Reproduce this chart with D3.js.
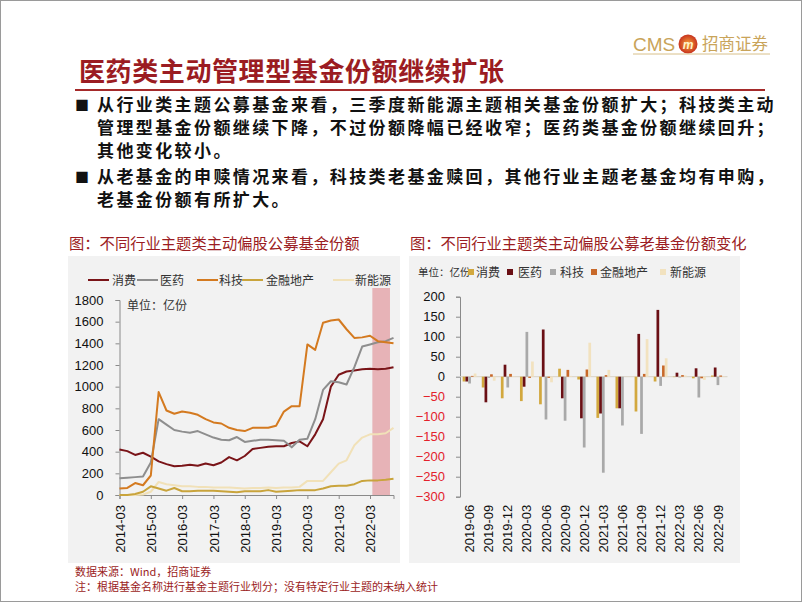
<!DOCTYPE html>
<html>
<head>
<meta charset="utf-8">
<script src="https://cdn.jsdelivr.net/npm/d3@7"></script>
<style>
  html, body { margin: 0; padding: 0; background: #fff; }
  svg { display: block; }
  .cjk { font-family: "Noto Sans CJK SC", "Noto Sans", sans-serif; }
  .num { font-family: "Liberation Sans", Arial, sans-serif; }
</style>
</head>
<body>
<svg id="page" width="802" height="602"></svg>
<script>
// ---------------- DATA ----------------
const pageTitle = "医药类主动管理型基金份额继续扩张";
const bulletLines = [
  ["从行业类主题公募基金来看，三季度新能源主题相关基金份额扩大；科技类主动",
   "管理型基金份额继续下降，不过份额降幅已经收窄；医药类基金份额继续回升；",
   "其他变化较小。"],
  ["从老基金的申赎情况来看，科技类老基金赎回，其他行业主题老基金均有申购，",
   "老基金份额有所扩大。"]
];
const leftTitle = "图：不同行业主题类主动偏股公募基金份额";
const rightTitle = "图：不同行业主题类主动偏股公募老基金份额变化";
const unitLabel = "单位：亿份";
const sourceNote = "数据来源：Wind，招商证券";
const footNote = "注：根据基金名称进行基金主题行业划分；没有特定行业主题的未纳入统计";

// Left chart: quarterly fund shares (亿份)
const quarters = [
  "2014-03","2014-06","2014-09","2014-12","2015-03","2015-06","2015-09","2015-12",
  "2016-03","2016-06","2016-09","2016-12","2017-03","2017-06","2017-09","2017-12",
  "2018-03","2018-06","2018-09","2018-12","2019-03","2019-06","2019-09","2019-12",
  "2020-03","2020-06","2020-09","2020-12","2021-03","2021-06","2021-09","2021-12",
  "2022-03","2022-06","2022-09","2022-10"
];
const quarterTicks = ["2014-03","2015-03","2016-03","2017-03","2018-03","2019-03","2020-03","2021-03","2022-03"];
const lineSeries = ["消费","医药","科技","金融地产","新能源"];
const consumption = [420,405,370,390,355,310,285,265,270,280,270,290,275,300,350,320,
                     360,425,435,445,450,450,480,495,450,560,700,1000,1110,1140,1150,1160,
                     1165,1160,1165,1180];
const pharma      = [155,160,165,170,300,700,650,600,585,575,590,560,530,510,505,535,
                     490,500,510,510,505,500,440,510,520,700,970,1050,1040,1020,1180,1370,
                     1390,1410,1420,1450];
const technology  = [60,65,110,90,180,950,780,750,770,760,740,700,670,660,620,600,
                     590,620,620,620,640,770,820,820,1390,1340,1590,1610,1620,1530,1450,1455,
                     1470,1420,1410,1400];
const finance     = [0,0,10,30,80,60,40,65,35,35,40,40,40,35,30,25,
                     35,35,35,45,30,35,40,45,45,45,60,80,85,85,100,130,
                     135,135,140,150];
const newEnergy   = [0,0,0,5,30,120,100,90,80,80,75,75,70,70,70,65,
                     60,65,65,70,65,70,70,75,130,130,130,210,290,320,460,530,
                     560,560,570,620];
const highlightFrom = "2022-03";
const highlightTo = "2022-09";
const leftYTicks = [0,200,400,600,800,1000,1200,1400,1600,1800];

// Right chart: change in old-fund shares (亿份)
const periods = ["2019-06","2019-09","2019-12","2020-03","2020-06","2020-09","2020-12",
                 "2021-03","2021-06","2021-09","2021-12","2022-03","2022-06","2022-09"];
const barSeries = ["消费","医药","科技","金融地产","新能源"];
const chgConsumption = [-12,-27,-54,-61,-69,20,-7,-103,-79,-87,-12,-1,-4,3];
const chgPharma      = [-12,-64,30,-25,118,-54,-104,-92,-79,107,167,10,21,23];
const chgTechnology  = [-17,-3,-27,112,-107,-110,-177,-240,-122,-143,-23,-2,-52,-21];
const chgFinance     = [2,6,7,-3,-3,17,18,4,0,7,28,4,-4,3];
const chgNewEnergy   = [8,-10,1,38,-14,2,85,17,0,94,46,3,-8,1];
const rightYTicks = [-300,-250,-200,-150,-100,-50,0,50,100,150,200];

// ---------------- STYLE ----------------
const leftColors = { "消费":"#7a1418", "医药":"#8e8e8e", "科技":"#d47a20", "金融地产":"#c9a43c", "新能源":"#f1e1b8" };
const rightColors = { "消费":"#d2a83e", "医药":"#6a0f14", "科技":"#a9a9a9", "金融地产":"#c8692a", "新能源":"#f2e2bf" };
const darkRed = "#9b1c22";

const svg = d3.select("#page");

// page frame
svg.append("rect").attr("x",0.5).attr("y",0.5).attr("width",801).attr("height",601)
  .attr("fill","#fff").attr("stroke","#9a9a9a");

// logo
const logo = svg.append("g");
logo.append("text").attr("class","num").attr("x",633).attr("y",51)
  .attr("font-size",19).attr("fill","#c9a45a").text("CMS");
const grad = svg.append("defs").append("radialGradient").attr("id","lg");
grad.append("stop").attr("offset","0%").attr("stop-color","#f6a43a");
grad.append("stop").attr("offset","100%").attr("stop-color","#c8331e");
logo.append("circle").attr("cx",688).attr("cy",44).attr("r",9.5).attr("fill","url(#lg)");
logo.append("text").attr("class","num").attr("x",688).attr("y",48.5).attr("text-anchor","middle")
  .attr("font-size",12).attr("font-weight","bold").attr("font-style","italic").attr("fill","#fff3c8").text("m");
logo.append("text").attr("class","cjk").attr("x",702).attr("y",50)
  .attr("font-size",16.5).attr("fill","#c9a45a").text("招商证券");
logo.append("line").attr("x1",633).attr("x2",770).attr("y1",54).attr("y2",54)
  .attr("stroke","#d8c08a").attr("stroke-width",1);

// title
svg.append("text").attr("class","cjk").attr("x",79).attr("y",81)
  .attr("font-size",26).attr("font-weight",700).attr("letter-spacing",0.6)
  .attr("fill",darkRed).text(pageTitle);
svg.append("line").attr("x1",75).attr("x2",765).attr("y1",90).attr("y2",90)
  .attr("stroke","#a52a2a").attr("stroke-width",2);

// bullets
let lineY = [[111,134,157],[183,206]];
bulletLines.forEach((lines, bi) => {
  svg.append("text").attr("class","cjk").attr("x",75).attr("y",lineY[bi][0]-1)
    .attr("font-size",14).attr("fill","#111").text("■");
  lines.forEach((t, li) => {
    svg.append("text").attr("class","cjk").attr("x",97).attr("y",lineY[bi][li])
      .attr("font-size",17).attr("font-weight",700).attr("letter-spacing",2.4)
      .attr("fill","#111").text(t);
  });
});

// chart titles
svg.append("text").attr("class","cjk").attr("x",69).attr("y",249)
  .attr("font-size",15.3).attr("fill",darkRed).text(leftTitle);
svg.append("text").attr("class","cjk").attr("x",410).attr("y",249)
  .attr("font-size",15.3).attr("fill",darkRed).text(rightTitle);

// panels
svg.append("rect").attr("x",68).attr("y",256).attr("width",332).attr("height",307).attr("fill","#f2f2f2");
svg.append("rect").attr("x",409).attr("y",256).attr("width",331).attr("height",307).attr("fill","#f2f2f2");

// ---------------- LEFT CHART ----------------
const L = svg.append("g");
const lx = d3.scaleLinear().domain([0, quarters.length - 1]).range([119.5, 393.5]);
const ly = d3.scaleLinear().domain([0, 1800]).range([495, 300]);
const qi = q => quarters.indexOf(q);

// highlight band
L.append("rect")
  .attr("x", lx(qi(highlightFrom) + 0.3))
  .attr("width", lx(qi(highlightTo) + 0.55) - lx(qi(highlightFrom) + 0.3))
  .attr("y", ly(1800) - 12).attr("height", ly(0) - ly(1800) + 12)
  .attr("fill","#e7b3b7");

const yAxisL = L.append("g").attr("transform","translate(119.5,0)")
  .call(d3.axisLeft(ly).tickValues(leftYTicks).tickSize(4).tickPadding(12).tickFormat(d3.format("d")));
yAxisL.selectAll("text").attr("class","num").attr("font-size",13).attr("fill","#111");
yAxisL.selectAll("line,path").attr("stroke","#8a8a8a");

const xAxisL = L.append("g").attr("transform","translate(0,495)")
  .call(d3.axisBottom(lx).tickValues(quarterTicks.map(qi)).tickSize(4).tickPadding(6)
        .tickFormat(i => quarters[i]));
xAxisL.select("path").attr("stroke","#8a8a8a");
xAxisL.selectAll("line").attr("stroke","#8a8a8a");
xAxisL.selectAll("text").attr("class","num").attr("font-size",13).attr("fill","#111")
  .attr("text-anchor","end").attr("dy","0.35em")
  .attr("transform","translate(0,10) rotate(-90)").attr("x",0).attr("y",0);

const lineData = { "消费":consumption, "医药":pharma, "科技":technology, "金融地产":finance, "新能源":newEnergy };
const lineGen = d3.line().x((d,i) => lx(i)).y(d => ly(d));
["新能源","金融地产","消费","医药","科技"].forEach(s => {
  L.append("path").datum(lineData[s]).attr("d", lineGen)
    .attr("fill","none").attr("stroke", leftColors[s]).attr("stroke-width",2)
    .attr("stroke-linejoin","round");
});

// unit
L.append("text").attr("class","cjk").attr("x",127).attr("y",310)
  .attr("font-size",12).attr("fill","#333").text(unitLabel);

// legend
const legPosL = [[88,112],[137,160],[197,219],[242,266],[333,355]];
lineSeries.forEach((s, i) => {
  L.append("line").attr("x1",legPosL[i][0]).attr("x2",legPosL[i][0]+21)
    .attr("y1",280).attr("y2",280).attr("stroke",leftColors[s]).attr("stroke-width",2);
  L.append("text").attr("class","cjk").attr("x",legPosL[i][1]).attr("y",284.5)
    .attr("font-size",12).attr("fill","#333").text(s);
});

// ---------------- RIGHT CHART ----------------
const R = svg.append("g");
const rx0 = d3.scaleBand().domain(periods).range([460, 727.5]);
const bw = rx0.bandwidth();
const rx1 = d3.scaleBand().domain(barSeries).range([bw/2 - 6.9, bw/2 + 6.9]).paddingInner(0.02);
const ry = d3.scaleLinear().domain([-300, 200]).range([496.7, 296.7]);

const yAxisR = R.append("g").attr("transform","translate(460,0)")
  .call(d3.axisLeft(ry).tickValues(rightYTicks).tickSize(4).tickPadding(11));
yAxisR.selectAll("text").attr("class","num").attr("font-size",13)
  .attr("fill", d => d < 0 ? "#e3212b" : "#111");
yAxisR.selectAll("line,path").attr("stroke","#8a8a8a");

// zero line
R.append("line").attr("x1",460).attr("x2",727.5).attr("y1",ry(0)).attr("y2",ry(0))
  .attr("stroke","#d9d2c4").attr("stroke-width",1);

const barData = { "消费":chgConsumption, "医药":chgPharma, "科技":chgTechnology, "金融地产":chgFinance, "新能源":chgNewEnergy };
periods.forEach((p, pi) => {
  barSeries.forEach(s => {
    const v = barData[s][pi];
    R.append("rect")
      .attr("x", rx0(p) + rx1(s))
      .attr("width", rx1.bandwidth())
      .attr("y", ry(Math.max(0, v)))
      .attr("height", Math.abs(ry(v) - ry(0)))
      .attr("fill", rightColors[s]);
  });
});

const xAxisR = R.append("g").attr("transform","translate(0,496.7)")
  .call(d3.axisBottom(rx0).tickSize(0).tickPadding(0));
xAxisR.select("path").remove();
xAxisR.selectAll("text").attr("class","num").attr("font-size",13).attr("fill","#111")
  .attr("text-anchor","end").attr("dy","0.35em")
  .attr("transform","translate(0,8) rotate(-90)").attr("x",0).attr("y",0);

// unit + legend
R.append("text").attr("class","cjk").attr("x",418).attr("y",276)
  .attr("font-size",10.5).attr("fill","#333").text(unitLabel);
const legPosR = [[468,476],[507,518],[550,560],[591,600],[660,670]];
barSeries.forEach((s, i) => {
  R.append("rect").attr("x",legPosR[i][0]).attr("y",269).attr("width",6).attr("height",6)
    .attr("fill",rightColors[s]);
  R.append("text").attr("class","cjk").attr("x",legPosR[i][1]).attr("y",276.5)
    .attr("font-size",12).attr("fill","#333").text(s);
});

// footnotes
svg.append("text").attr("class","cjk").attr("x",75).attr("y",576)
  .attr("font-size",11).attr("fill",darkRed).text(sourceNote);
svg.append("text").attr("class","cjk").attr("x",75).attr("y",591)
  .attr("font-size",11).attr("fill",darkRed).text(footNote);
</script>
</body>
</html>
